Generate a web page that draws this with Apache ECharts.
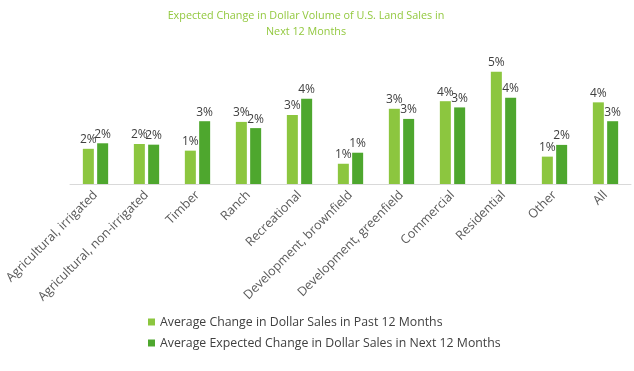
<!DOCTYPE html>
<html><head><meta charset="utf-8">
<script src="https://cdn.jsdelivr.net/npm/echarts@6/dist/echarts.min.js"></script>
<style>html,body{margin:0;padding:0;background:#fff}#c{width:634px;height:371px}</style>
</head><body><div id="c"></div>
<script>
const categories = ["Agricultural, irrigated","Agricultural, non-irrigated","Timber","Ranch","Recreational","Development, brownfield","Development, greenfield","Commercial","Residential","Other","All"];
const pastValues = [1.53,1.74,1.45,2.70,3.00,0.88,3.27,3.60,4.88,1.19,3.55];
const nextValues = [1.77,1.71,2.73,2.43,3.71,1.36,2.83,3.33,3.75,1.70,2.73];
const seriesNames = ["Average Change in Dollar Sales in Past 12 Months","Average Expected Change in Dollar Sales in Next 12 Months"];
const titleText = "Expected Change in Dollar Volume of U.S. Land Sales in\nNext 12 Months";

const FONT = "Open Sans";
const chart = echarts.init(document.getElementById('c'));
const lbl = {show:true, position:'top', distance:3, color:'#404040', fontSize:12, fontFamily:FONT,
  formatter: p => Math.round(p.value) + '%'};
chart.setOption({
  animation:false,
  title:{text:titleText, left:301, textAlign:'center', top:3,
    textStyle:{color:'#92c83e', fontSize:10.8, fontWeight:'normal', fontFamily:FONT, lineHeight:16}},
  grid:{left:70, width:561, top:69, bottom:187, containLabel:false},
  legend:{orient:'vertical', left:143, top:311, itemWidth:7, itemHeight:7, itemGap:9,
    icon:'rect', textStyle:{color:'#404040', fontSize:12.3, fontFamily:FONT}, data:seriesNames},
  xAxis:{type:'category', data:categories,
    axisLine:{lineStyle:{color:'#d9d9d9'}}, axisTick:{show:false},
    axisLabel:{rotate:45, interval:0, color:'#595959', fontSize:12.5, fontFamily:FONT, margin:9}},
  yAxis:{type:'value', min:0, max:5, show:false, splitLine:{show:false}},
  series:[
    {name:seriesNames[0], type:'bar', data:pastValues, barWidth:11, barGap:'30%',
      itemStyle:{color:'#8cc63f'}, label:lbl},
    {name:seriesNames[1], type:'bar', data:nextValues, barWidth:11, barGap:'30%',
      itemStyle:{color:'#4ea72e'}, label:lbl}
  ]
});
</script></body></html>
